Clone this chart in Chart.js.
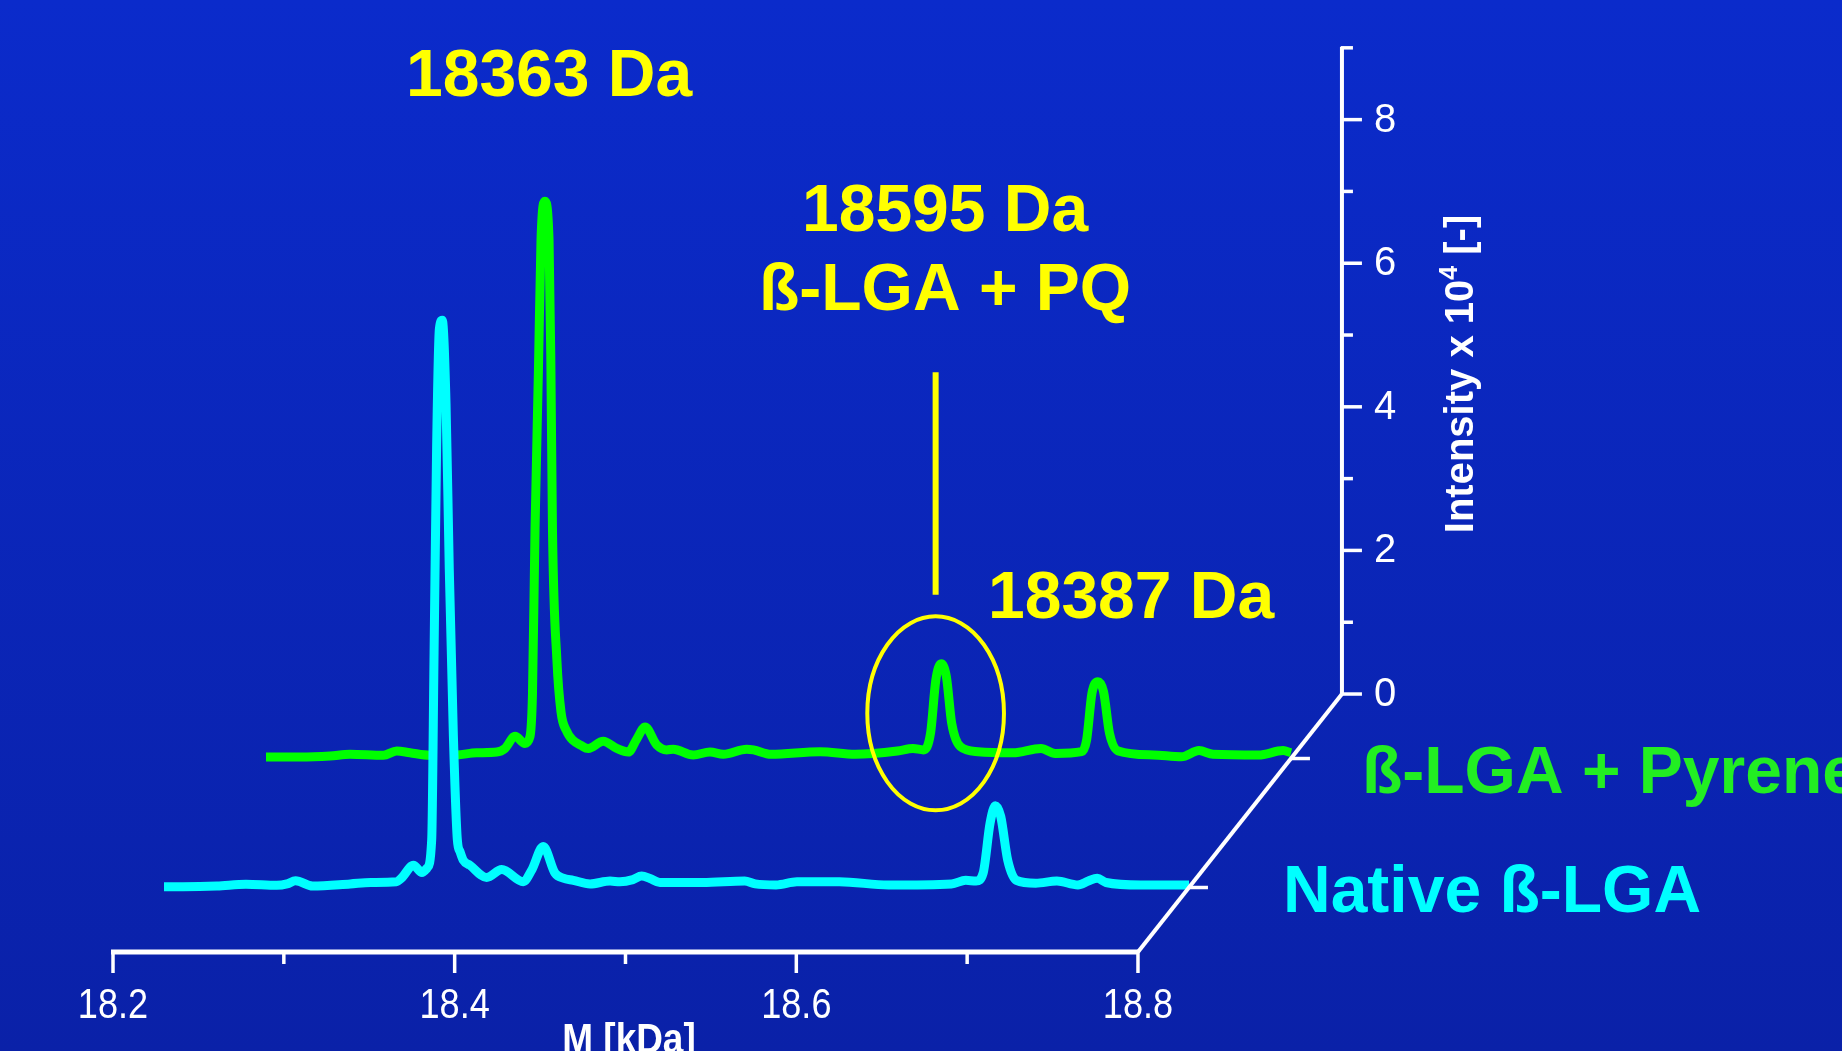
<!DOCTYPE html>
<html>
<head>
<meta charset="utf-8">
<title>ß-LGA mass spectra</title>
<script src="https://cdn.jsdelivr.net/npm/chart.js@4.4.0/dist/chart.umd.min.js"></script>
<style>
  html, body { margin: 0; padding: 0; overflow: hidden; background: #0b28c0; }
  #wrap { width: 1842px; height: 1051px; position: relative; }
</style>
</head>
<body>
<div id="wrap"><canvas id="myChart"></canvas></div>
<script>
// deconvoluted spectra, mass in kDa, intensity x 10^4
const massNative = [18.200, 18.211, 18.231, 18.248, 18.266, 18.272, 18.277, 18.287, 18.309, 18.321, 18.336, 18.339,
  18.346, 18.351, 18.354, 18.3567, 18.3581, 18.3596, 18.3612, 18.3629, 18.3651, 18.3670, 18.3694, 18.3717, 18.3733,
  18.3752, 18.3791, 18.3889, 18.3977, 18.4103, 18.4152, 18.4220, 18.4289, 18.4337, 18.4396, 18.4494, 18.4611, 18.4669,
  18.4745, 18.4796, 18.4845, 18.4903, 18.5153, 18.5399, 18.5461, 18.5583, 18.5705, 18.5954, 18.6241, 18.6610, 18.6693,
  18.6754, 18.6795, 18.6836, 18.6867, 18.6898, 18.6939, 18.6990, 18.7103, 18.7227, 18.7350, 18.7411, 18.7463, 18.7514,
  18.7719, 18.8000];
const intNative = [0.01, 0.01, 0.02, 0.045, 0.03, 0.05, 0.095, 0.02, 0.05, 0.07, 0.08, 0.13,
  0.31, 0.21, 0.27, 0.66, 3.27, 6.16, 7.78, 7.90, 6.74, 4.43, 2.11, 0.67, 0.50,
  0.38, 0.31, 0.14, 0.25, 0.08, 0.24, 0.57, 0.20, 0.13, 0.10, 0.05, 0.09, 0.08,
  0.11, 0.16, 0.125, 0.07, 0.07, 0.09, 0.05, 0.035, 0.08, 0.08, 0.035, 0.05, 0.10,
  0.09, 0.20, 0.90, 1.14, 0.99, 0.38, 0.10, 0.06, 0.09, 0.035, 0.09, 0.13, 0.07,
  0.035, 0.035];

const massPyrene = [18.200, 18.220, 18.2375, 18.2492, 18.2687, 18.2765, 18.2843, 18.2960, 18.3116, 18.3233, 18.3351,
  18.3399, 18.3458, 18.3516, 18.3545, 18.3560, 18.3575, 18.3595, 18.3610, 18.3633, 18.3657, 18.3668, 18.3677, 18.3703,
  18.3727, 18.3756, 18.3857, 18.3887, 18.3974, 18.4053, 18.4121, 18.4170, 18.4219, 18.4287, 18.4346, 18.4384, 18.4501,
  18.4599, 18.4677, 18.4814, 18.4854, 18.4956, 18.5244, 18.5449, 18.5696, 18.5788, 18.5849, 18.5890, 18.5921, 18.5952,
  18.5983, 18.6014, 18.6065, 18.6168, 18.6373, 18.6537, 18.6620, 18.6774, 18.6804, 18.6835, 18.6870, 18.6903, 18.6938,
  18.6989, 18.7195, 18.7359, 18.7462, 18.7544, 18.7811, 18.7954, 18.8000];
const intPyrene = [0.02, 0.02, 0.035, 0.06, 0.045, 0.105, 0.08, 0.045, 0.05, 0.08, 0.09,
  0.14, 0.31, 0.21, 0.30, 0.90, 3.20, 5.42, 7.23, 7.76, 7.23, 5.42, 3.20, 1.37,
  0.65, 0.40, 0.165, 0.14, 0.24, 0.14, 0.09, 0.27, 0.44, 0.19, 0.12, 0.13, 0.05,
  0.09, 0.06, 0.13, 0.12, 0.06, 0.095, 0.06, 0.105, 0.14, 0.12, 0.35, 1.09, 1.32,
  1.14, 0.49, 0.165, 0.095, 0.08, 0.14, 0.07, 0.095, 0.26, 0.91, 1.07, 0.93, 0.35,
  0.105, 0.05, 0.025, 0.11, 0.06, 0.05, 0.11, 0.08];

const seriesNames = ['Native ß-LGA', 'ß-LGA + Pyrene'];
const seriesDepth = [0.25, 0.75];

const xTicks = [18.2, 18.3, 18.4, 18.5, 18.6, 18.7, 18.8];
const xTickLabels = ['18.2', '', '18.4', '', '18.6', '', '18.8'];
const yTicks = [0, 1, 2, 3, 4, 5, 6, 7, 8, 9];
const yTickLabels = ['0', '', '2', '', '4', '', '6', '', '8', ''];

// PQ adduct mark on the pyrene trace: centre mass, centre intensity, pointer from/to
const pqMark = [18.592, 0.63, 2.28, 5.38];

// pseudo-3D depth axis, in data units (full depth)
const depthX = 0.1194;   // kDa
const depthY = 3.593;    // intensity units

function bgGradient(ctx, h) {
  const g = ctx.createLinearGradient(0, 0, 0, h);
  g.addColorStop(0, '#0b2bcb');
  g.addColorStop(1, '#0a21a8');
  return g;
}

function toPoints(mass, inten, d) {
  return mass.map((m, i) => ({ x: m + d * depthX, y: inten[i] + d * depthY }));
}

// condensed text: no narrow font installed, so squeeze Liberation Sans
function narrowText(ctx, text, x, y, sx) {
  ctx.save();
  ctx.translate(x, y);
  ctx.scale(sx, 1);
  ctx.fillText(text, 0, 0);
  ctx.restore();
}

const background = {
  id: 'background',
  beforeDraw(chart) {
    const ctx = chart.ctx;
    ctx.save();
    ctx.fillStyle = bgGradient(ctx, chart.height);
    ctx.fillRect(0, 0, chart.width, chart.height);
    ctx.restore();
  }
};

const frame = {
  id: 'frame',
  afterDatasetsDraw(chart) {
    const ctx = chart.ctx;
    const xs = chart.scales.x, ys = chart.scales.y;
    const P = (m, v, d) => [xs.getPixelForValue(m + d * depthX), ys.getPixelForValue(v + d * depthY)];
    const seg = (a, b) => { ctx.beginPath(); ctx.moveTo(a[0], a[1]); ctx.lineTo(b[0], b[1]); ctx.stroke(); };
    const x0 = xTicks[0], x1 = xTicks[xTicks.length - 1];

    ctx.save();
    ctx.strokeStyle = '#ffffff';
    ctx.fillStyle = '#ffffff';
    ctx.lineCap = 'butt';

    // front mass axis
    ctx.lineWidth = 5;
    const a0 = P(x0, 0, 0), a1 = P(x1, 0, 0);
    seg([a0[0] - 2, a0[1]], [a1[0] + 1, a1[1]]);
    ctx.lineWidth = 3.5;
    ctx.font = '42px "Liberation Sans", Arial, sans-serif';
    ctx.textAlign = 'center';
    ctx.textBaseline = 'alphabetic';
    xTicks.forEach((t, i) => {
      const p = P(t, 0, 0);
      seg([p[0], p[1]], [p[0], p[1] + (xTickLabels[i] ? 21 : 12)]);
      if (xTickLabels[i]) narrowText(ctx, xTickLabels[i], p[0], 1018, 0.86);
    });
    ctx.font = 'bold 42px "Liberation Sans", Arial, sans-serif';
    narrowText(ctx, 'M [kDa]', 629, 1053, 0.88);

    // depth axis with a tick for each trace
    ctx.lineWidth = 4;
    seg(P(x1, 0, 0), P(x1, 0, 1));
    ctx.lineWidth = 3.5;
    seriesDepth.forEach(d => {
      const p = P(x1, 0, d);
      seg([p[0], p[1]], [p[0] + 19, p[1]]);
    });

    // intensity axis on the back plane
    ctx.lineWidth = 4;
    const b0 = P(x1, 0, 1), b1 = P(x1, yTicks[yTicks.length - 1], 1);
    seg([b0[0], b0[1] + 1], [b1[0], b1[1] - 1]);
    ctx.lineWidth = 3.5;
    ctx.font = '40px "Liberation Sans", Arial, sans-serif';
    ctx.textAlign = 'left';
    ctx.textBaseline = 'middle';
    yTicks.forEach((t, i) => {
      const p = P(x1, t, 1);
      seg([p[0] - 1, p[1]], [p[0] + (yTickLabels[i] ? 20 : 11), p[1]]);
      if (yTickLabels[i]) ctx.fillText(yTickLabels[i], p[0] + 32, p[1] + 1);
    });

    // axis title, rotated, with superscript
    ctx.save();
    ctx.translate(1473, 374);
    ctx.rotate(-Math.PI / 2);
    ctx.textBaseline = 'alphabetic';
    const big = 'bold 40px "Liberation Sans", Arial, sans-serif';
    const sup = 'bold 25px "Liberation Sans", Arial, sans-serif';
    ctx.font = big; const w1 = ctx.measureText('Intensity x 10').width;
    ctx.font = sup; const w2 = ctx.measureText('4').width;
    ctx.font = big; const w3 = ctx.measureText(' [-]').width;
    let sx = -(w1 + w2 + w3) / 2;
    ctx.font = big; ctx.fillText('Intensity x 10', sx, 0); sx += w1;
    ctx.font = sup; ctx.fillText('4', sx, -16); sx += w2;
    ctx.font = big; ctx.fillText(' [-]', sx, 0);
    ctx.restore();

    // PQ adduct mark (ellipse + pointer) on the pyrene plane
    const dG = seriesDepth[1];
    const c = P(pqMark[0], pqMark[1], dG);
    const rx = xs.getPixelForValue(pqMark[0] + 0.040) - xs.getPixelForValue(pqMark[0]);
    const ry = ys.getPixelForValue(0) - ys.getPixelForValue(1.35);
    ctx.strokeStyle = '#ffff00';
    ctx.lineWidth = 4;
    ctx.beginPath();
    ctx.ellipse(c[0], c[1], rx, ry, 0, 0, Math.PI * 2);
    ctx.stroke();
    ctx.lineWidth = 6;
    seg(P(pqMark[0], pqMark[2], dG), P(pqMark[0], pqMark[3], dG));

    // peak labels
    ctx.fillStyle = '#ffff00';
    ctx.font = 'bold 66px "Liberation Sans", Arial, sans-serif';
    ctx.textAlign = 'left';
    ctx.textBaseline = 'alphabetic';
    ctx.fillText('18363 Da', 406, 96);
    ctx.fillText('18595 Da', 802, 231);
    ctx.fillText('ß-LGA + PQ', 759, 310);
    ctx.fillText('18387 Da', 988, 618);

    // series names
    ctx.fillStyle = '#22ee22';
    ctx.fillText(seriesNames[1], 1362, 793);
    ctx.fillStyle = '#00ffff';
    ctx.fillText(seriesNames[0], 1283, 912);

    ctx.restore();
  }
};

const ctx = document.getElementById('myChart').getContext('2d');
new Chart(ctx, {
  type: 'scatter',
  data: {
    datasets: [{
      label: seriesNames[0],
      data: toPoints(massNative, intNative, seriesDepth[0]),
      showLine: true,
      borderColor: '#00ffff',
      borderWidth: 9,
      pointRadius: 0,
      cubicInterpolationMode: 'monotone',
      borderJoinStyle: 'round',
      // hidden-line fill so the front trace covers the one behind
      fill: 'start',
      backgroundColor: (c) => bgGradient(c.chart.ctx, c.chart.height)
    }, {
      label: seriesNames[1],
      data: toPoints(massPyrene, intPyrene, seriesDepth[1]),
      showLine: true,
      borderColor: '#00ff00',
      borderWidth: 9,
      pointRadius: 0,
      cubicInterpolationMode: 'monotone',
      borderJoinStyle: 'round',
      fill: false
    }]
  },
  options: {
    responsive: true,
    maintainAspectRatio: false,
    animation: false,
    layout: { padding: 0 },
    scales: {
      x: { type: 'linear', display: false, min: 18.13385, max: 19.21212 },
      y: { type: 'linear', display: false, min: -1.3788, max: 13.2591 }
    },
    plugins: {
      legend: { display: false },
      tooltip: { enabled: false }
    }
  },
  plugins: [background, frame]
});
</script>
</body>
</html>
